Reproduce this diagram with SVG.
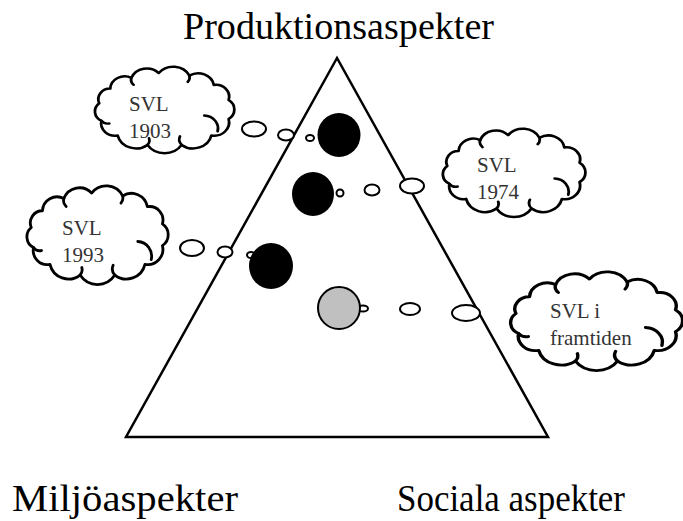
<svg xmlns="http://www.w3.org/2000/svg" width="683" height="521" viewBox="0 0 683 521">
<style>
.lbl{font-family:"Liberation Serif","Times New Roman",serif;fill:#000}
.ctx{font-family:"Liberation Serif","Times New Roman",serif;font-size:21px;fill:#333}
.cl{fill:#fff;stroke:#000;stroke-width:2.5;vector-effect:non-scaling-stroke;stroke-linejoin:round}
.ci{fill:none;stroke:#000;stroke-width:2.5;vector-effect:non-scaling-stroke;stroke-linecap:round}
.bub{fill:#fff;stroke:#000;stroke-width:2}
</style>
<defs>
<path id="cloudShape" d="M 8.9,37.6 A 10.7 10.7 0 0 1 18.9,22.8 A 13 13 0 0 1 38,12 A 15 15 0 0 1 62.8,7.1 A 16.5 16.5 0 0 1 90.5,9.7 A 14.5 14.5 0 0 1 112.6,19.2 A 12 12 0 0 1 126,34.4 A 11.5 11.5 0 0 1 126,53.6 A 13.5 13.5 0 0 1 110.4,70.2 A 17 17 0 0 1 83.5,79.7 A 18.5 18.5 0 0 1 52.5,79.7 A 17 17 0 0 1 25.6,70.2 A 12.5 12.5 0 0 1 10.9,55.4 A 10.7 10.7 0 0 1 8.9,37.6 Z"/>
<path id="cloudInner" d="M 104,50 A 13 13 0 0 1 116,66 M 83.5,79.7 A 8 8 0 0 1 82,71 M 52.5,79.7 A 7 7 0 0 0 54,73 M 10.9,55.4 A 7 7 0 0 0 18,58 M 38,12 A 7 7 0 0 0 40,19 M 90.5,9.7 A 7 7 0 0 1 89,16"/>
</defs>

<g id="title">
<text class="lbl" x="183" y="39" font-size="37" textLength="311" lengthAdjust="spacingAndGlyphs">Produktionsaspekter</text>
</g>
<g id="miljo">
<text class="lbl" x="12" y="511" font-size="38" textLength="226" lengthAdjust="spacingAndGlyphs">Miljöaspekter</text>
</g>
<g id="sociala">
<text class="lbl" x="397" y="511" font-size="37" textLength="228" lengthAdjust="spacingAndGlyphs">Sociala aspekter</text>
</g>

<g id="triangle">
<polygon points="337,58 126,437 548,437" fill="none" stroke="#000" stroke-width="2.5" stroke-linejoin="miter"/>
</g>

<g id="cloud1903">
<g transform="translate(89.4,66) scale(1.105,0.99)">
<use href="#cloudShape" class="cl"/>
<use href="#cloudInner" class="ci"/>
</g>
<text class="ctx" x="129" y="111">SVL</text>
<text class="ctx" x="129" y="138">1903</text>
</g>

<g id="cloud1993">
<g transform="translate(21.3,185) scale(1.12,1.13)">
<use href="#cloudShape" class="cl"/>
<use href="#cloudInner" class="ci"/>
</g>
<text class="ctx" x="62" y="235">SVL</text>
<text class="ctx" x="62" y="262">1993</text>
</g>

<g id="cloud1974">
<g transform="translate(437.2,128) scale(1.13,1.01)">
<use href="#cloudShape" class="cl"/>
<use href="#cloudInner" class="ci"/>
</g>
<text class="ctx" x="477" y="172">SVL</text>
<text class="ctx" x="477" y="199">1974</text>
</g>

<g id="cloudFramtiden">
<g transform="translate(503.8,271) scale(1.363,1.13)">
<use href="#cloudShape" class="cl"/>
<use href="#cloudInner" class="ci"/>
</g>
<text class="ctx" x="550" y="318">SVL i</text>
<text class="ctx" x="550" y="345">framtiden</text>
</g>

<g id="connectors">
<ellipse class="bub" cx="254" cy="129" rx="12" ry="7.5"/>
<ellipse class="bub" cx="286" cy="135" rx="8" ry="5.5"/>
<ellipse class="bub" cx="310" cy="138" rx="4" ry="3"/>
<ellipse class="bub" cx="340" cy="193" rx="3.5" ry="3.5"/>
<ellipse class="bub" cx="372" cy="190" rx="7.5" ry="5.5"/>
<ellipse class="bub" cx="412" cy="186" rx="12" ry="7.5"/>
<ellipse class="bub" cx="192" cy="248" rx="12" ry="8"/>
<ellipse class="bub" cx="225" cy="252" rx="7.5" ry="5.5"/>
<ellipse class="bub" cx="251" cy="255" rx="4" ry="3"/>
<ellipse class="bub" cx="363" cy="308.5" rx="5" ry="3"/>
<ellipse class="bub" cx="410" cy="309" rx="10" ry="6"/>
<ellipse class="bub" cx="466" cy="313" rx="14" ry="8"/>
</g>

<g id="state1903"><ellipse cx="339" cy="135" rx="21.5" ry="22" fill="#000"/></g>
<g id="state1974"><ellipse cx="313" cy="194" rx="21" ry="22" fill="#000"/></g>
<g id="state1993"><ellipse cx="271" cy="266" rx="22" ry="23" fill="#000"/></g>
<g id="stateFuture"><circle cx="339" cy="308" r="21" fill="#c0c0c0" stroke="#000" stroke-width="2"/></g>
</svg>
